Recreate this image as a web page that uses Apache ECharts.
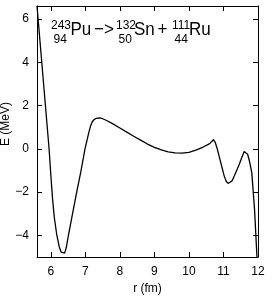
<!DOCTYPE html>
<html>
<head>
<meta charset="utf-8">
<script src="https://cdn.jsdelivr.net/npm/echarts@6/dist/echarts.min.js"></script>
<style>
html,body{margin:0;padding:0;background:#fff;}
#chart{width:272px;height:300px;}
</style>
</head>
<body>
<div id="chart"></div>
<script>
// Distance r (fm)
var rValues = [5.60, 5.95, 6.00, 6.05, 6.10, 6.17, 6.24, 6.30, 6.35, 6.40, 6.45, 6.51, 6.63, 6.75, 6.87, 6.99,
  7.10, 7.15, 7.20, 7.25, 7.32, 7.41, 7.50, 7.60, 7.80, 8.00, 8.20, 8.40, 8.60, 8.80, 9.00, 9.20, 9.40, 9.60, 9.80,
  10.00, 10.20, 10.40, 10.60, 10.71, 10.76, 10.82, 10.90, 11.02, 11.08, 11.13, 11.18, 11.25, 11.30, 11.45,
  11.55, 11.60, 11.65, 11.70, 11.75, 11.82, 11.90, 11.97];
// Energy E (MeV)
var eValues = [6.60, 0.00, -1.20, -2.30, -3.15, -3.95, -4.50, -4.78, -4.85, -4.82, -4.55, -4.00, -3.00, -2.00, -1.05, 0.00,
  0.75, 1.05, 1.25, 1.35, 1.41, 1.43, 1.39, 1.32, 1.15, 0.96, 0.77, 0.58, 0.40, 0.22, 0.07, -0.05, -0.14, -0.19, -0.20,
  -0.16, -0.06, 0.07, 0.24, 0.42, 0.30, 0.00, -0.50, -1.25, -1.50, -1.60, -1.60, -1.48, -1.30, -0.75,
  -0.32, -0.13, -0.13, -0.25, -0.55, -1.10, -2.80, -5.00];
var xTicks = [6, 7, 8, 9, 10, 11, 12];
var yTicks = [-4, -2, 0, 2, 4, 6];
var xRange = [5.6, 12];
var yRange = [-5, 6.6];

var seriesData = rValues.map(function (r, i) { return [r, eValues[i]]; });
var fontFam = '"Liberation Sans", Arial, sans-serif';
function fmt(v) { return String(v).replace('-', '\u2212'); }

var axisCommon = {
  type: 'value',
  axisLine: { show: true, onZero: false, lineStyle: { color: '#000', width: 1 } },
  axisTick: { show: true, inside: true, length: 5, lineStyle: { color: '#000', width: 1 } },
  splitLine: { show: false }
};

var chart = echarts.init(document.getElementById('chart'), null, { renderer: 'canvas' });
var big = { fontSize: 17, fontFamily: fontFam, fill: '#000', align: 'left', verticalAlign: 'middle' };
var small = { fontSize: 12, fontFamily: fontFam, fill: '#000', align: 'left', verticalAlign: 'middle' };
function bigText(t, x) { return { type: 'text', x: x, y: 30, scaleY: 1.1, style: Object.assign({ text: t }, big) }; }
function smallText(t, x, y) { return { type: 'text', x: x, y: y, style: Object.assign({ text: t }, small) }; }

var option = {
  animation: false,
  backgroundColor: '#fff',
  grid: { left: 37, right: 14, top: 6, bottom: 37, containLabel: false },
  xAxis: [
    Object.assign({}, axisCommon, {
      min: xRange[0], max: xRange[1], position: 'bottom',
      axisTick: Object.assign({}, axisCommon.axisTick, { customValues: xTicks }),
      axisLabel: { customValues: xTicks, color: '#000', fontSize: 12, fontFamily: fontFam, margin: 9, formatter: fmt },
      name: 'r (fm)', nameLocation: 'middle', nameGap: 26,
      nameTextStyle: { color: '#000', fontSize: 12, fontFamily: fontFam }
    }),
    Object.assign({}, axisCommon, {
      min: xRange[0], max: xRange[1], position: 'top',
      axisTick: Object.assign({}, axisCommon.axisTick, { customValues: xTicks }),
      axisLabel: { show: false }
    })
  ],
  yAxis: [
    Object.assign({}, axisCommon, {
      min: yRange[0], max: yRange[1], position: 'left',
      axisTick: Object.assign({}, axisCommon.axisTick, { customValues: yTicks }),
      axisLabel: { customValues: yTicks, color: '#000', fontSize: 12, fontFamily: fontFam, margin: 8, formatter: fmt }
    }),
    Object.assign({}, axisCommon, {
      min: yRange[0], max: yRange[1], position: 'right',
      axisTick: Object.assign({}, axisCommon.axisTick, { customValues: yTicks }),
      axisLabel: { show: false }
    })
  ],
  series: [{
    type: 'line',
    data: seriesData,
    xAxisIndex: 0, yAxisIndex: 0,
    showSymbol: false,
    smooth: false,
    clip: true,
    lineStyle: { color: '#000', width: 1.3 }
  }],
  graphic: [
    { type: 'text', rotation: Math.PI / 2, x: 6, y: 124, style: { text: 'E (MeV)', fontSize: 12, fontFamily: fontFam, fill: '#000', align: 'center', verticalAlign: 'middle' } },
    smallText('243', 51, 25.2),
    smallText('94', 53.5, 39.2),
    bigText('Pu', 70.5),
    bigText('\u2212>', 94),
    smallText('132', 116, 25.2),
    smallText('50', 118.5, 39.2),
    bigText('Sn', 134),
    bigText('+', 157.5),
    smallText('111', 172, 25.2),
    smallText('44', 174.5, 39.2),
    bigText('Ru', 189)
  ]
};
chart.setOption(option);
</script>
</body>
</html>
